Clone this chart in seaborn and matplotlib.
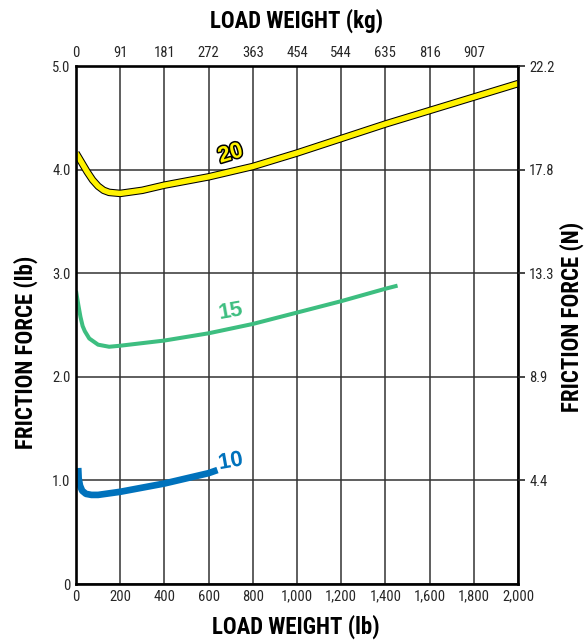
import numpy as np
import pandas as pd
import seaborn as sns
import matplotlib
matplotlib.use("Agg")
from matplotlib import pyplot as plt
import matplotlib.patheffects as pe

# curve data (load in lb, friction force in lb)
load_20 = [0, 25, 50, 75, 100, 125, 150, 200, 300, 400, 600, 800, 1000, 1200, 1400, 1600, 1800, 2000]
force_20 = [4.16, 4.07, 3.98, 3.90, 3.84, 3.80, 3.78, 3.77, 3.80, 3.85, 3.93, 4.03, 4.16, 4.30, 4.44, 4.57, 4.70, 4.83]

load_15 = [0, 10, 20, 30, 40, 60, 100, 150, 200, 400, 600, 800, 1000, 1200, 1400, 1455]
force_15 = [2.83, 2.70, 2.58, 2.49, 2.44, 2.37, 2.31, 2.29, 2.30, 2.35, 2.42, 2.51, 2.62, 2.73, 2.85, 2.88]

load_10 = [10, 12, 18, 28, 45, 70, 100, 200, 400, 600, 640]
force_10 = [1.12, 1.02, 0.95, 0.90, 0.87, 0.86, 0.86, 0.89, 0.97, 1.07, 1.10]

lb_ticks = [0, 200, 400, 600, 800, 1000, 1200, 1400, 1600, 1800, 2000]
lb_labels = ["0", "200", "400", "600", "800", "1,000", "1,200", "1,400", "1,600", "1,800", "2,000"]
kg_ticks = [0, 200, 400, 600, 800, 1000, 1200, 1400, 1600, 1800]
kg_labels = ["0", "91", "181", "272", "363", "454", "544", "635", "816", "907"]
force_ticks = [0, 1, 2, 3, 4, 5]
force_labels = ["0", "1.0", "2.0", "3.0", "4.0", "5.0"]
newton_ticks = [1, 2, 3, 4, 5]
newton_labels = ["4.4", "8.9", "13.3", "17.8", "22.2"]

sns.set_style("white")
plt.rcParams['font.family'] = ['Roboto Condensed', 'DejaVu Sans']

YELLOW = "#FFF200"
GREEN = "#3DBE80"
BLUE = "#0072BC"

fig = plt.figure(figsize=(5.88, 6.41), dpi=100)
ax = fig.add_axes([76/588, 1 - 584/641, 442/588, 518/641])

ax.set_xlim(0, 2000)
ax.set_ylim(0, 5)
ax.set_xticks(lb_ticks)
ax.set_xticklabels(lb_labels, fontsize=10.5)
ax.set_yticks(force_ticks)
ax.set_yticklabels(force_labels, fontsize=10.5)
ax.tick_params(axis="both", length=0, pad=4)
ax.grid(True, color="#333333", lw=1.1)
ax.set_axisbelow(True)
for s in ax.spines.values():
    s.set_linewidth(1.9)
    s.set_color("black")
    s.set_zorder(5)

df20 = pd.DataFrame({"load": load_20, "force": force_20})
df15 = pd.DataFrame({"load": load_15, "force": force_15})
df10 = pd.DataFrame({"load": load_10, "force": force_10})

sns.lineplot(data=df20, x="load", y="force", ax=ax, color=YELLOW, lw=3.9,
             solid_capstyle="butt", zorder=4,
             path_effects=[pe.Stroke(linewidth=5.4, foreground="black"), pe.Normal()])
sns.lineplot(data=df15, x="load", y="force", ax=ax, color=GREEN, lw=2.9,
             solid_capstyle="butt", zorder=4)
sns.lineplot(data=df10, x="load", y="force", ax=ax, color=BLUE, lw=4.8,
             solid_capstyle="butt", zorder=4)
ax.set_xlabel("")
ax.set_ylabel("")

# curve labels
lab_kw = dict(fontsize=16, fontweight="bold", family="Liberation Sans",
              ha="center", va="center", zorder=6)
ax.text(700, 4.15, "20", color=YELLOW, rotation=17,
        path_effects=[pe.withStroke(linewidth=2.2, foreground="black")], **lab_kw)
ax.text(700, 2.63, "15", color=GREEN, rotation=10, **lab_kw)
ax.text(700, 1.18, "10", color=BLUE, rotation=10,
        path_effects=[pe.withStroke(linewidth=3, foreground="white")], **lab_kw)

# top kg axis
axt = ax.twiny()
axt.set_xlim(ax.get_xlim())
axt.set_xticks(kg_ticks)
axt.set_xticklabels(kg_labels, fontsize=10.5)
axt.tick_params(axis="x", length=0, pad=4)

# right newton axis
axr = ax.twinx()
axr.set_ylim(ax.get_ylim())
axr.set_yticks(newton_ticks)
axr.set_yticklabels(newton_labels, fontsize=10.5)
axr.tick_params(axis="y", length=5, width=1.2, pad=3)
for a in (axt, axr):
    for s in a.spines.values():
        s.set_visible(False)

title_kw = dict(fontsize=16.5, fontweight="bold", color="black")
fig.text(296/588, 1 - 21/641, "LOAD WEIGHT (kg)", ha="center", va="center", **title_kw)
fig.text(296/588, 1 - 627/641, "LOAD WEIGHT (lb)", ha="center", va="center", **title_kw)
fig.text(26/588, 1 - 352/641, "FRICTION FORCE (lb)", ha="center", va="center",
         rotation=90, **title_kw)
fig.text(572/588, 1 - 317/641, "FRICTION FORCE (N)", ha="center", va="center",
         rotation=90, **title_kw)

fig.savefig("out.png", dpi=100)
